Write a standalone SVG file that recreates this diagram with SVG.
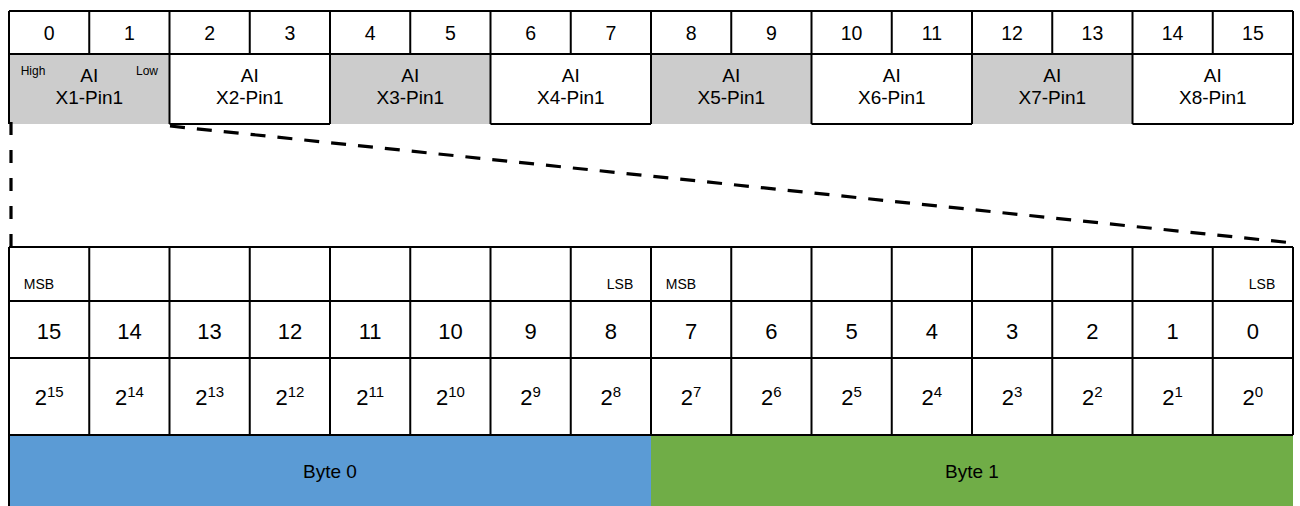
<svg xmlns="http://www.w3.org/2000/svg" width="1300" height="506" viewBox="0 0 1300 506">
<style>
text{font-family:"Liberation Sans",Arial,sans-serif;fill:#000;text-anchor:middle}
.ln{stroke:#000;stroke-width:2;fill:none}
.idx{font-size:19.5px}
.ai{font-size:19px}
.hl{font-size:12px}
.ms{font-size:14px}
.num{font-size:22px}
.pw{font-size:22px}
.sup{font-size:15px}
.byte{font-size:19px}
.gray{fill:#cccccc}
.dash{stroke:#000;stroke-width:3.2;fill:none}
</style>
<rect width="1300" height="506" fill="#fff"/>
<!-- top index row -->
<g id="top-index">
<text class="idx" x="49.1" y="40">0</text>
<text class="idx" x="129.4" y="40">1</text>
<text class="idx" x="209.6" y="40">2</text>
<text class="idx" x="289.9" y="40">3</text>
<text class="idx" x="370.1" y="40">4</text>
<text class="idx" x="450.4" y="40">5</text>
<text class="idx" x="530.6" y="40">6</text>
<text class="idx" x="610.9" y="40">7</text>
<text class="idx" x="691.1" y="40">8</text>
<text class="idx" x="771.4" y="40">9</text>
<text class="idx" x="851.6" y="40">10</text>
<text class="idx" x="931.9" y="40">11</text>
<text class="idx" x="1012.1" y="40">12</text>
<text class="idx" x="1092.4" y="40">13</text>
<text class="idx" x="1172.6" y="40">14</text>
<text class="idx" x="1252.9" y="40">15</text>
</g>
<g id="ai-x1"><rect class="gray" x="9" y="54" width="160.5" height="70"/>
<text class="hl" x="33" y="75">High</text><text class="hl" x="147" y="75">Low</text>
<text class="ai" x="89.3" y="82">AI</text><text class="ai" x="89.3" y="104">X1-Pin1</text></g>
<g id="ai-x2"><text class="ai" x="249.8" y="82">AI</text><text class="ai" x="249.8" y="104">X2-Pin1</text></g>
<g id="ai-x3"><rect class="gray" x="330" y="54" width="160.5" height="70"/>
<text class="ai" x="410.3" y="82">AI</text><text class="ai" x="410.3" y="104">X3-Pin1</text></g>
<g id="ai-x4"><text class="ai" x="570.8" y="82">AI</text><text class="ai" x="570.8" y="104">X4-Pin1</text></g>
<g id="ai-x5"><rect class="gray" x="651" y="54" width="160.5" height="70"/>
<text class="ai" x="731.3" y="82">AI</text><text class="ai" x="731.3" y="104">X5-Pin1</text></g>
<g id="ai-x6"><text class="ai" x="891.8" y="82">AI</text><text class="ai" x="891.8" y="104">X6-Pin1</text></g>
<g id="ai-x7"><rect class="gray" x="972" y="54" width="160.5" height="70"/>
<text class="ai" x="1052.3" y="82">AI</text><text class="ai" x="1052.3" y="104">X7-Pin1</text></g>
<g id="ai-x8"><text class="ai" x="1212.8" y="82">AI</text><text class="ai" x="1212.8" y="104">X8-Pin1</text></g>
<!-- byte row -->
<g id="byte0"><rect x="9" y="435" width="642" height="71" fill="#5b9bd5"/><text class="byte" x="330" y="478">Byte 0</text></g>
<g id="byte1"><rect x="651" y="435" width="642" height="71" fill="#70ad47"/><text class="byte" x="972" y="478">Byte 1</text></g>
<!-- table lines -->
<g id="grid">
<path class="ln" d="M9 11H1293M9 54H1293M169.5 124H330M490.5 124H651M811.5 124H972M1132.5 124H1293
M9 11V124M89.25 11V54M169.5 11V124M249.75 11V54M330 11V124M410.25 11V54M490.5 11V124M570.75 11V54M651 11V124M731.25 11V54M811.5 11V124M891.75 11V54M972 11V124M1052.25 11V54M1132.5 11V124M1212.75 11V54M1293 11V124"/>
<path class="ln" d="M9 247H1293M9 301H1293M9 358H1293M9 435H1293
M9 247V506M89.25 247V435M169.5 247V435M249.75 247V435M330 247V435M410.25 247V435M490.5 247V435M570.75 247V435M651 247V435M731.25 247V435M811.5 247V435M891.75 247V435M972 247V435M1052.25 247V435M1132.5 247V435M1212.75 247V435M1293 247V435"/>
</g>
<!-- bit columns -->
<g id="bit15"><text class="ms" x="39" y="289">MSB</text><text class="num" x="49.1" y="339">15</text><text class="pw" x="49.1" y="405">2<tspan class="sup" dy="-8">15</tspan></text></g>
<g id="bit14"><text class="num" x="129.4" y="339">14</text><text class="pw" x="129.4" y="405">2<tspan class="sup" dy="-8">14</tspan></text></g>
<g id="bit13"><text class="num" x="209.6" y="339">13</text><text class="pw" x="209.6" y="405">2<tspan class="sup" dy="-8">13</tspan></text></g>
<g id="bit12"><text class="num" x="289.9" y="339">12</text><text class="pw" x="289.9" y="405">2<tspan class="sup" dy="-8">12</tspan></text></g>
<g id="bit11"><text class="num" x="370.1" y="339">11</text><text class="pw" x="370.1" y="405">2<tspan class="sup" dy="-8">11</tspan></text></g>
<g id="bit10"><text class="num" x="450.4" y="339">10</text><text class="pw" x="450.4" y="405">2<tspan class="sup" dy="-8">10</tspan></text></g>
<g id="bit9"><text class="num" x="530.6" y="339">9</text><text class="pw" x="530.6" y="405">2<tspan class="sup" dy="-8">9</tspan></text></g>
<g id="bit8"><text class="ms" x="620" y="289">LSB</text><text class="num" x="610.9" y="339">8</text><text class="pw" x="610.9" y="405">2<tspan class="sup" dy="-8">8</tspan></text></g>
<g id="bit7"><text class="ms" x="681" y="289">MSB</text><text class="num" x="691.1" y="339">7</text><text class="pw" x="691.1" y="405">2<tspan class="sup" dy="-8">7</tspan></text></g>
<g id="bit6"><text class="num" x="771.4" y="339">6</text><text class="pw" x="771.4" y="405">2<tspan class="sup" dy="-8">6</tspan></text></g>
<g id="bit5"><text class="num" x="851.6" y="339">5</text><text class="pw" x="851.6" y="405">2<tspan class="sup" dy="-8">5</tspan></text></g>
<g id="bit4"><text class="num" x="931.9" y="339">4</text><text class="pw" x="931.9" y="405">2<tspan class="sup" dy="-8">4</tspan></text></g>
<g id="bit3"><text class="num" x="1012.1" y="339">3</text><text class="pw" x="1012.1" y="405">2<tspan class="sup" dy="-8">3</tspan></text></g>
<g id="bit2"><text class="num" x="1092.4" y="339">2</text><text class="pw" x="1092.4" y="405">2<tspan class="sup" dy="-8">2</tspan></text></g>
<g id="bit1"><text class="num" x="1172.6" y="339">1</text><text class="pw" x="1172.6" y="405">2<tspan class="sup" dy="-8">1</tspan></text></g>
<g id="bit0"><text class="ms" x="1262" y="289">LSB</text><text class="num" x="1252.9" y="339">0</text><text class="pw" x="1252.9" y="405">2<tspan class="sup" dy="-8">0</tspan></text></g>
<!-- connectors (dashed zoom lines) -->
<g id="connectors">
<path class="dash" d="M11 122V247" stroke-dasharray="13 15"/>
<path class="dash" d="M170 126L1293 243" stroke-dasharray="15 12"/>
</g>
</svg>
